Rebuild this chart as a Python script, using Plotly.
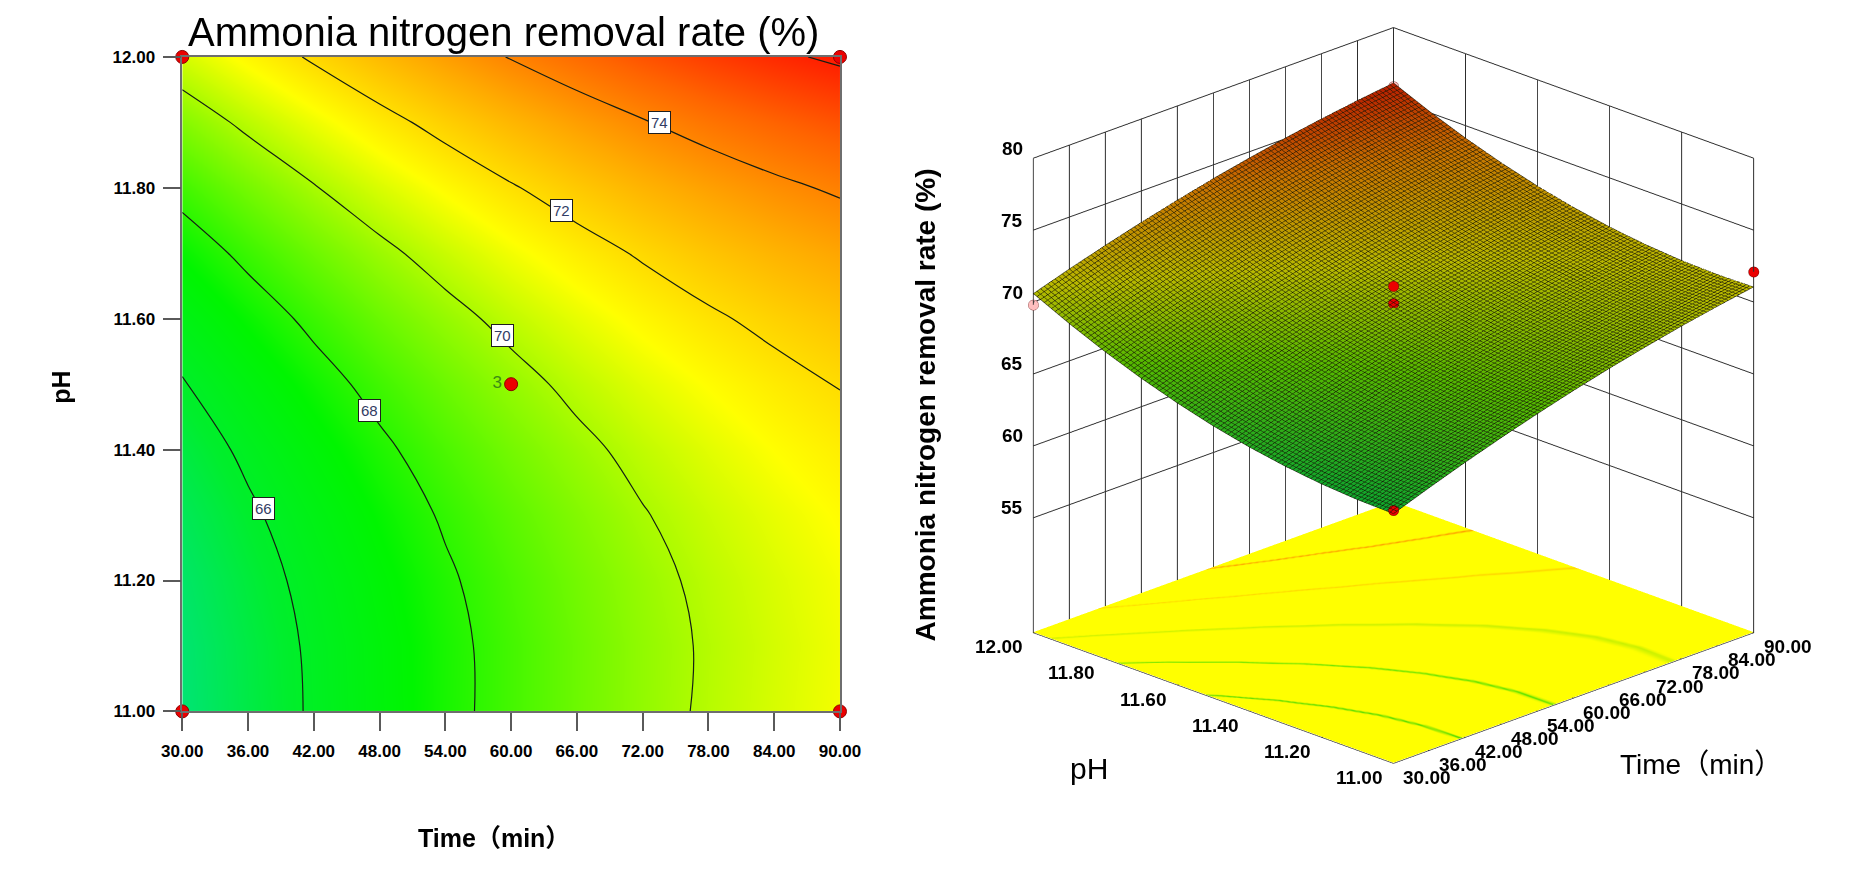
import numpy as np
import plotly.graph_objects as go

# ---------------- data ----------------
time_ticks = [30, 36, 42, 48, 54, 60, 66, 72, 78, 84, 90]
ph_ticks = [11.0, 11.2, 11.4, 11.6, 11.8, 12.0]
z_ticks = [55, 60, 65, 70, 75, 80]

# grid on which the response was read
time_grid = [30, 36, 42, 48, 54, 60, 66, 72, 78, 84, 90]
ph_grid = [11.0, 11.1, 11.2, 11.3, 11.4, 11.5, 11.6, 11.7, 11.8, 11.9, 12.0]

# ammonia nitrogen removal rate (%) : rows = pH, cols = time
removal = [
    [64.37, 65.28, 66.14, 66.94, 67.69, 68.39, 69.03, 69.61, 70.15, 70.62, 71.05],
    [64.43, 65.33, 66.18, 66.97, 67.71, 68.39, 69.02, 69.60, 70.12, 70.58, 71.00],
    [64.62, 65.51, 66.34, 67.12, 67.85, 68.52, 69.14, 69.70, 70.22, 70.67, 71.07],
    [64.93, 65.81, 66.63, 67.40, 68.12, 68.78, 69.38, 69.94, 70.44, 70.88, 71.27],
    [65.36, 66.23, 67.04, 67.80, 68.51, 69.16, 69.75, 70.29, 70.78, 71.22, 71.59],
    [65.92, 66.78, 67.58, 68.33, 69.02, 69.66, 70.25, 70.78, 71.25, 71.67, 72.04],
    [66.61, 67.45, 68.24, 68.98, 69.66, 70.29, 70.86, 71.38, 71.85, 72.26, 72.61],
    [67.42, 68.25, 69.03, 69.75, 70.42, 71.04, 71.60, 72.11, 72.57, 72.97, 73.31],
    [68.35, 69.17, 69.94, 70.65, 71.31, 71.92, 72.47, 72.97, 73.41, 73.80, 74.13],
    [69.41, 70.22, 70.97, 71.68, 72.33, 72.92, 73.46, 73.94, 74.38, 74.75, 75.08],
    [70.59, 71.39, 72.13, 72.82, 73.46, 74.05, 74.57, 75.05, 75.47, 75.84, 76.15],
]

contour_levels = [66, 68, 70, 72, 74, 76]
label_levels = [66, 68, 70, 72, 74]
label_time = [37.4, 47.1, 59.2, 64.6, 73.5]
label_ph = [11.31, 11.46, 11.575, 11.765, 11.90]

design_time = [30, 90, 30, 90, 60]
design_ph = [12.0, 12.0, 11.0, 11.0, 11.5]
design_label = ["", "", "", "", "3"]

# observed points shown on the 3-D plot
obs_above_time = [30, 90, 60, 60]
obs_above_ph = [11.0, 11.0, 11.5, 11.5]
obs_above_val = [64.6, 72.1, 71.1, 69.9]
obs_below_time = [30, 90]
obs_below_ph = [12.0, 12.0]
obs_below_val = [69.8, 75.9]

z_floor = 47

FONT = "Liberation Sans, Arial, Noto Sans CJK SC"

fig = go.Figure()

# ---------------- 2-D contour plot ----------------
cs2d = [
    [0.0, "rgb(0,228,115)"],
    [0.12, "rgb(0,238,45)"],
    [0.25, "rgb(0,245,0)"],
    [0.45, "rgb(150,250,0)"],
    [0.58, "rgb(255,255,0)"],
    [0.75, "rgb(255,170,0)"],
    [0.88, "rgb(255,100,0)"],
    [1.0, "rgb(255,25,0)"],
]
zmin_c = min(min(r) for r in removal)
zmax_c = max(max(r) for r in removal)

fig.add_trace(go.Heatmap(
    x=time_grid, y=ph_grid, z=removal, zsmooth="best",
    colorscale=cs2d, zmin=zmin_c, zmax=zmax_c, showscale=False,
    hoverinfo="skip", xaxis="x", yaxis="y"))

fig.add_trace(go.Contour(
    x=time_grid, y=ph_grid, z=removal,
    contours=dict(start=contour_levels[0], end=contour_levels[-1], size=2,
                  coloring="none", showlabels=False),
    line=dict(color="rgb(20,30,20)", width=1.2, smoothing=1.1),
    showscale=False, hoverinfo="skip", xaxis="x", yaxis="y"))

fig.add_trace(go.Scatter(
    x=design_time, y=design_ph, mode="markers+text",
    text=design_label, textposition="middle left",
    textfont=dict(family=FONT, size=17, color="rgb(60,140,20)"),
    marker=dict(size=13, color="rgb(235,0,0)", line=dict(color="rgb(140,0,0)", width=1)),
    cliponaxis=False, hoverinfo="skip", xaxis="x", yaxis="y"))

for lev, t, p in zip(label_levels, label_time, label_ph):
    fig.add_annotation(x=t, y=p, xref="x", yref="y", text=str(lev), showarrow=False,
                       xanchor="center", yanchor="middle",
                       font=dict(family=FONT, size=15, color="rgb(50,60,100)"),
                       bgcolor="white", bordercolor="rgb(30,30,30)", borderwidth=1, borderpad=2)

tick_font2d = dict(family=FONT, size=17, color="black", weight="bold")
fig.update_layout(
    xaxis=dict(domain=[165 / 1850, 838 / 1850], range=[30, 90], tickvals=time_ticks,
               ticktext=[f"{v:.2f}" for v in time_ticks], ticks="outside", ticklen=18,
               tickwidth=2, tickcolor="rgb(90,90,90)", tickfont=tick_font2d,
               ticklabelstandoff=5, showline=True, linecolor="rgb(110,110,110)",
               linewidth=1.5, mirror=True, showgrid=False, zeroline=False),
    yaxis=dict(domain=[(875 - 718) / 875, (875 - 49) / 875], range=[11.0, 12.0],
               tickvals=ph_ticks, ticktext=[f"{v:.2f}" for v in ph_ticks],
               ticks="outside", ticklen=18, tickwidth=2, tickcolor="rgb(90,90,90)",
               tickfont=tick_font2d, ticklabelstandoff=4, showline=True,
               linecolor="rgb(110,110,110)", linewidth=1.5, mirror=True,
               showgrid=False, zeroline=False),
)

fig.add_annotation(x=494 / 1850, y=1 - 23 / 875, xref="paper", yref="paper",
                   xanchor="center", yanchor="middle",
                   text="Ammonia nitrogen removal rate (%)", showarrow=False,
                   font=dict(family=FONT, size=40, color="black"))
fig.add_annotation(x=484 / 1850, y=1 - 847 / 875, xref="paper", yref="paper",
                   xanchor="center", yanchor="middle",
                   text="Time（min）", showarrow=False,
                   font=dict(family=FONT, size=25, color="black", weight="bold"))
fig.add_annotation(x=41 / 1850, y=1 - 387 / 875, xref="paper", yref="paper",
                   xanchor="center", yanchor="middle",
                   text="pH", showarrow=False, textangle=-90,
                   font=dict(family=FONT, size=25, color="black", weight="bold"))

# ---------------- 3-D response surface ----------------
cs3d = [
    [0.0, "rgb(15,165,45)"],
    [0.3, "rgb(85,185,0)"],
    [0.55, "rgb(185,185,0)"],
    [0.8, "rgb(200,115,0)"],
    [1.0, "rgb(185,30,0)"],
]
fig.add_trace(go.Surface(
    x=time_grid, y=ph_grid, z=removal, colorscale=cs3d, cmin=zmin_c, cmax=zmax_c,
    showscale=False, hoverinfo="skip",
    lighting=dict(ambient=0.95, diffuse=0.15, specular=0.0, roughness=1.0, fresnel=0.0),
    contours=dict(
        x=dict(show=True, start=30, end=90, size=0.6, color="rgb(20,20,5)", width=1, highlight=False),
        y=dict(show=True, start=11, end=12, size=0.01, color="rgb(20,20,5)", width=1, highlight=False),
        z=dict(highlight=False)),
    scene="scene"))

# floor with projected contour lines (narrow colour bands)
yellow = "rgb(255,255,0)"
floor_levels = [66, 68, 70, 72, 74]
floor_colors = ["rgb(60,215,0)", "rgb(85,225,0)", "rgb(200,240,0)", "rgb(255,210,0)", "rgb(255,145,0)"]
fcmin, fcmax, w = 63.0, 77.0, 0.0042
floor_cs = [[0.0, yellow]]
for lev, col in zip(floor_levels, floor_colors):
    f = (lev - fcmin) / (fcmax - fcmin)
    floor_cs += [[f - w, yellow], [f, col], [f + w, yellow]]
floor_cs.append([1.0, yellow])

fig.add_trace(go.Surface(
    x=time_grid, y=ph_grid, z=np.full((len(ph_grid), len(time_grid)), z_floor + 0.05),
    surfacecolor=removal, colorscale=floor_cs, cmin=fcmin, cmax=fcmax, showscale=False,
    hoverinfo="skip", lighting=dict(ambient=1.0, diffuse=0.0, specular=0.0, fresnel=0.0),
    contours=dict(x=dict(highlight=False), y=dict(highlight=False), z=dict(highlight=False)),
    scene="scene"))

fig.add_trace(go.Scatter3d(
    x=obs_above_time, y=obs_above_ph, z=obs_above_val, mode="markers",
    marker=dict(size=6, color="rgb(235,0,0)", line=dict(color="rgb(120,0,0)", width=1)),
    hoverinfo="skip", scene="scene"))
fig.add_trace(go.Scatter3d(
    x=obs_below_time, y=obs_below_ph, z=obs_below_val, mode="markers",
    marker=dict(size=6, color="rgb(255,190,190)", line=dict(color="rgb(150,80,80)", width=1)),
    hoverinfo="skip", scene="scene"))

tick_font3d = dict(family=FONT, size=19, color="black", weight="bold")
ann3d = []
for t in time_ticks:
    ann3d.append(dict(x=t, y=ph_ticks[0], z=z_floor, text=f"{t:.2f}", showarrow=False,
                      xanchor="left", yanchor="middle", xshift=8, yshift=-14, font=tick_font3d))
for p in ph_ticks:
    ann3d.append(dict(x=time_ticks[0], y=p, z=z_floor, text=f"{p:.2f}", showarrow=False,
                      xanchor="right", yanchor="middle", xshift=-8, yshift=-14, font=tick_font3d))
for zt in z_ticks:
    ann3d.append(dict(x=time_ticks[0], y=ph_ticks[-1], z=zt, text=str(zt), showarrow=False,
                      xanchor="right", yanchor="middle", xshift=-8, yshift=10, font=tick_font3d))
ann3d.append(dict(x=60, y=ph_ticks[0], z=z_floor, text="Time（min）", showarrow=False,
                  xanchor="center", yanchor="middle",
                  xshift=128, yshift=-66, font=dict(family=FONT, size=28, color="black")))
ann3d.append(dict(x=time_ticks[0], y=11.5, z=z_floor, text="pH", showarrow=False,
                  xanchor="center", yanchor="middle",
                  xshift=-124, yshift=-70, font=dict(family=FONT, size=30, color="black")))
ann3d.append(dict(x=time_ticks[0], y=ph_ticks[-1], z=63.5, text="Ammonia nitrogen removal rate (%)",
                  showarrow=False, textangle=-90, xanchor="center", yanchor="middle",
                  xshift=-107, yshift=-9,
                  font=dict(family=FONT, size=28, color="black", weight="bold")))

axis3d = dict(showgrid=True, gridcolor="rgb(45,45,45)", gridwidth=2, showbackground=False,
              showticklabels=False, ticks="", title=dict(text=""), zeroline=False,
              showspikes=False, showline=False)
fig.update_layout(
    scene=dict(
        domain=dict(x=[0.518, 1.0], y=[0.0, 1.0]),
        xaxis=dict(axis3d, range=[30, 90], tickvals=time_ticks),
        yaxis=dict(axis3d, range=[11, 12], tickvals=ph_ticks),
        zaxis=dict(axis3d, range=[z_floor, 80], tickvals=z_ticks),
        aspectmode="manual", aspectratio=dict(x=1.19, y=1.19, z=1.19),
        camera=dict(eye=dict(x=-1.17, y=-1.17, z=0.54), center=dict(x=0, y=0, z=-0.104),
                    up=dict(x=0, y=0, z=1), projection=dict(type="orthographic")),
        annotations=ann3d,
        bgcolor="white",
    ),
    width=1850, height=875, margin=dict(l=0, r=0, t=0, b=0),
    paper_bgcolor="white", plot_bgcolor="white", showlegend=False,
)

fig.write_html("out.html", config={"displayModeBar": False},
               post_script="document.body.style.margin='0';document.body.style.overflow='hidden';")
